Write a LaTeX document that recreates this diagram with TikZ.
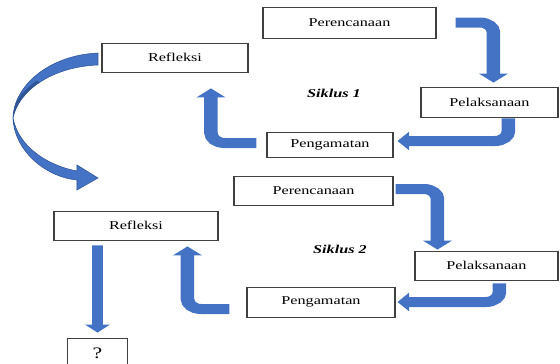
\documentclass[tikz,border=0pt]{standalone}
\usepackage{fontspec}
\setmainfont{Liberation Serif}
\usetikzlibrary{arrows.meta, positioning}
\definecolor{arrowblue}{HTML}{4472C4}
\definecolor{arrowdark}{HTML}{2F5597}
\tikzset{
    wide/.style={transform canvas={xscale=1.35}, x=1pt/1.35, y=-1pt}, % the whole figure is stretched sideways
    stage/.style={draw=black!75, line width=0.8pt, inner sep=0pt, minimum width=#1pt/1.35, font=\fontsize{12}{14}\selectfont}, % box for each step of a cycle
    blockarrow/.style={arrowblue, line width=10pt, rounded corners=10pt}, % the wide blue arrows
    tipdown/.style={-{Triangle[length=9pt, width=21pt]}}, % head of an arrow ending up or down
    tipside/.style={-{Triangle[length=8.5pt, width=18pt]}}, % head of an arrow ending left or right
    cyclelabel/.style={font=\fontsize{12}{14}\selectfont\bfseries\itshape}, % name of the cycle
}

\begin{document}
\begin{tikzpicture}
    \useasboundingbox (0,0) rectangle (560pt,-364pt);
    \begin{scope}[wide]
    % cycle 1
    \node[stage=173, minimum height=31pt] (per1) at (349.5,22.5) {Perencanaan};
    \node[stage=137, minimum height=30pt] (pel1) at (489.5,102) {Pelaksanaan};
    \node[stage=126, minimum height=25pt] (pen1) at (330,144.5) {Pengamatan};
    \node[stage=146, minimum height=29pt] (ref1) at (175,57.5) {Refleksi};
    \node[cyclelabel] (sik1) at (334,93) {Siklus 1};
    % cycle 2
    \node[stage=159, minimum height=29pt] (per2) at (313.5,190.5) {Perencanaan};
    \node[stage=143, minimum height=29pt] (pel2) at (486.5,265.5) {Pelaksanaan};
    \node[stage=148, minimum height=30pt] (pen2) at (321,302) {Pengamatan};
    \node[stage=164, minimum height=29pt] (ref2) at (136,225.5) {Refleksi};
    \node[cyclelabel] (sik2) at (340,249) {Siklus 2};
    \node[stage=60, minimum height=30pt, font=\fontsize{16}{18}\selectfont] (next) at (97.5,353) {?};

    \draw[blockarrow, tipdown] ([shift={(19,0)}]per1.east) -| ([shift={(4,-4)}]pel1.north);
    \draw[blockarrow, tipside] ([shift={(19,1)}]pel1.south) |- ([shift={(4,-3.5)}]pen1.east);
    \draw[blockarrow, tipdown] ([shift={(-10,-1.5)}]pen1.west) -| ([shift={(36,16)}]ref1.south);
    \draw[blockarrow, tipdown] ([shift={(2,-1.5)}]per2.east) -| ([shift={(-49,-1)}]pel2.north);
    \draw[blockarrow, tipside] ([shift={(13,3)}]pel2.south) |- ([shift={(2,0)}]pen2.east);
    \draw[blockarrow, tipdown] ([shift={(-17,7)}]pen2.west) -| ([shift={(51.5,6)}]ref2.south);
    \draw[blockarrow, line width=8pt, -{Triangle[length=8pt, width=18pt]}] ([shift={(-38.5,5)}]ref2.south) -- ([shift={(0,-5)}]next.north);

    % from cycle 1 to cycle 2
    \fill[arrowblue, draw=arrowdark, line width=0.5pt] (98,53) .. controls (50,55) and (14,85) .. (13,118)
        .. controls (14,150) and (45,177) .. (77,180) -- (77,190) -- (98,178) -- (77,165) -- (77,171)
        .. controls (45,165) and (18,145) .. (13,118)
        .. controls (18,92) and (50,67) .. (98,65) -- cycle;
    \begin{scope}
        \clip (98,53) .. controls (50,55) and (14,85) .. (13,118)
            .. controls (18,92) and (50,67) .. (98,65) -- cycle;
        \draw[arrowdark, line width=5pt] (13,118) .. controls (15.5,105) and (24.75,92.25) .. (39.4,82.5);
    \end{scope}
    \end{scope}
\end{tikzpicture}
\end{document}
